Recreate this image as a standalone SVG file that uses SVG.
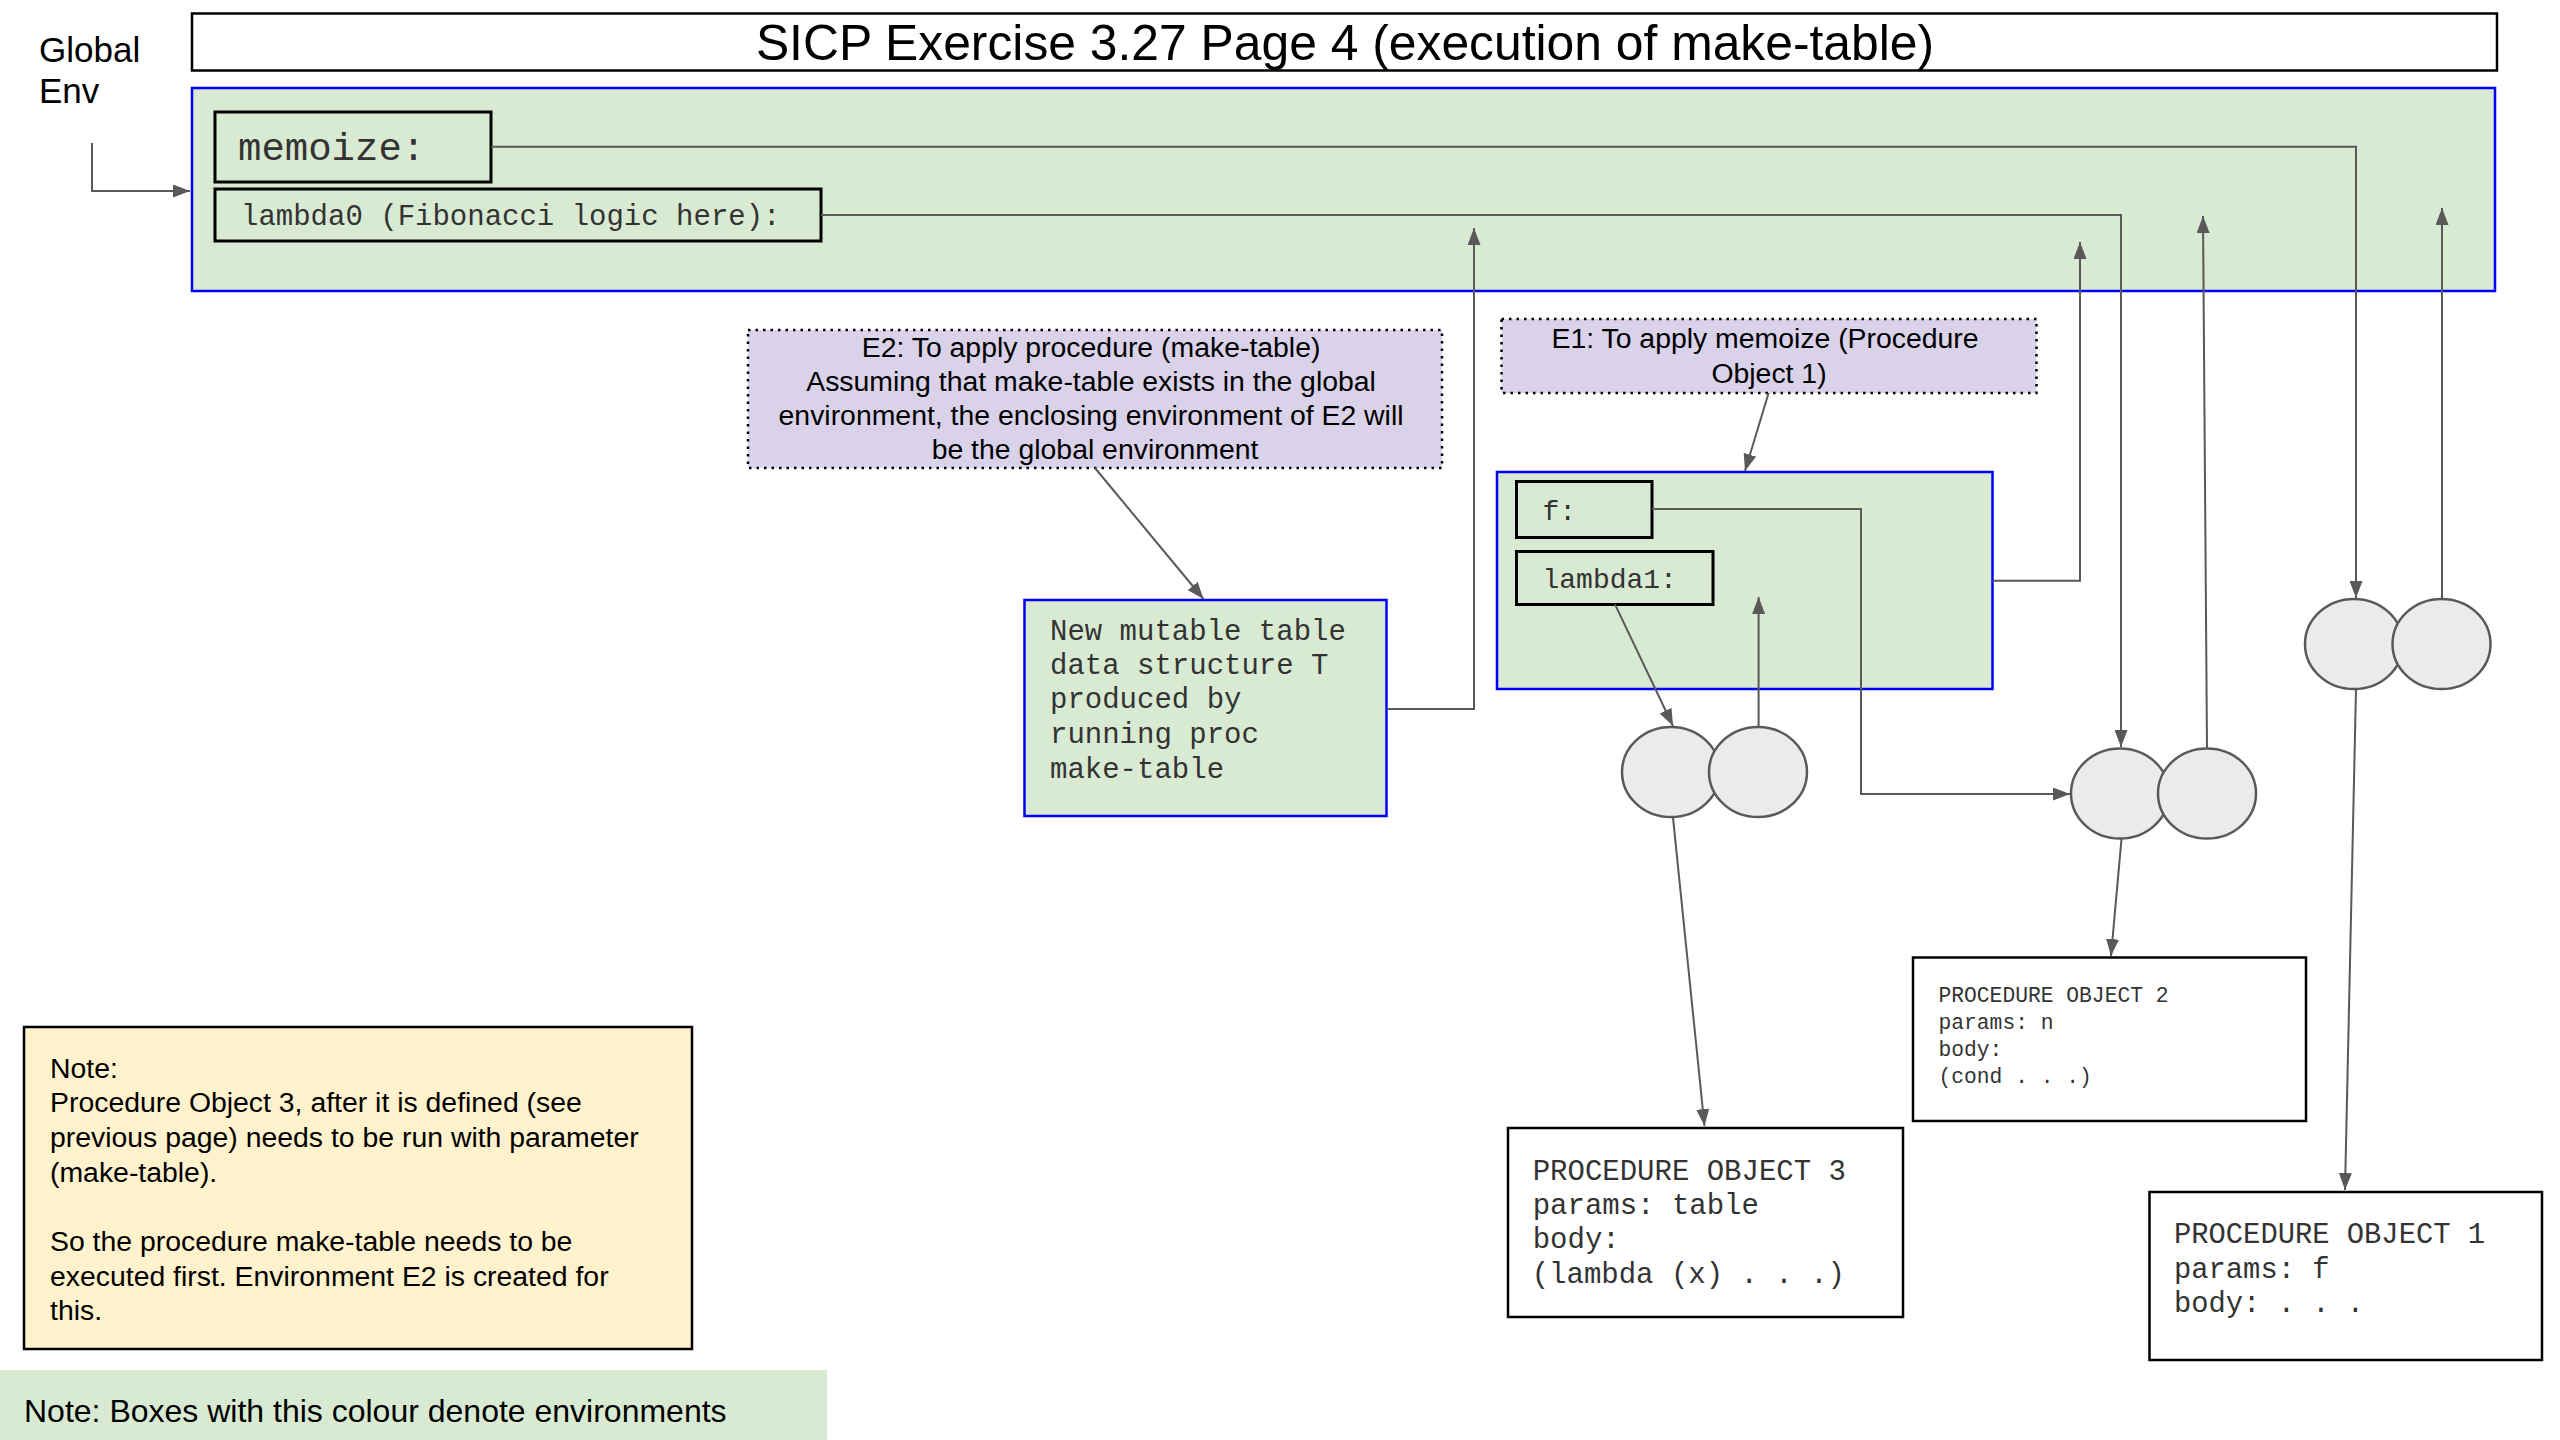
<svg xmlns="http://www.w3.org/2000/svg" width="2560" height="1440" viewBox="0 0 2560 1440">
<style>
.sans{font-family:"Liberation Sans",Arial,sans-serif;fill:#000}
.mono{font-family:"Liberation Mono","Courier New",monospace;fill:#333}
.env{fill:#d9ead3;stroke:#0000ff;stroke-width:2.5}
.lab{fill:#d9d2e9;stroke:#000;stroke-width:2.5;stroke-dasharray:2.5 5}
.bind{fill:#d9ead3;stroke:#000;stroke-width:3}
.po{fill:#fff;stroke:#000;stroke-width:2.5}
.cell{fill:#ebebeb;stroke:#595959;stroke-width:2.5}
.conn{fill:none;stroke:#595959;stroke-width:2}
</style>
<defs>
<marker id="arr" viewBox="0 0 17 13" refX="17" refY="6.5" markerWidth="17" markerHeight="13" orient="auto" markerUnits="userSpaceOnUse">
<path d="M0,0 L17,6.5 L0,13 z" fill="#595959"/>
</marker>
</defs>
<rect width="2560" height="1440" fill="#fff"/>

<g id="global-env-label">
<text class="sans" x="39" y="62" font-size="35">Global</text>
<text class="sans" x="39" y="103" font-size="35">Env</text>
</g>

<g id="title">
<rect x="192" y="13.5" width="2305" height="57" fill="#fff" stroke="#000" stroke-width="2.5"/>
<text class="sans" x="1345" y="60" font-size="49.8" text-anchor="middle">SICP Exercise 3.27 Page 4 (execution of make-table)</text>
</g>

<g id="global-env">
<rect class="env" x="192" y="88" width="2303" height="203"/>
</g>
<g id="memoize-binding">
<rect class="bind" x="215" y="112" width="276" height="70"/>
<text class="mono" x="238" y="160" font-size="39">memoize:</text>
</g>
<g id="lambda0-binding">
<rect class="bind" x="215" y="189" width="606" height="52"/>
<text class="mono" x="241" y="225" font-size="29">lambda0 (Fibonacci logic here):</text>
</g>

<g id="e2-label">
<rect class="lab" x="748" y="330" width="694" height="138"/>
<text class="sans" font-size="28.4" text-anchor="middle">
<tspan x="1095" y="357">E2: To apply procedure (make-table)</tspan>
<tspan x="1095" y="391">Assuming that make-table exists in the global</tspan>
<tspan x="1095" y="425">environment, the enclosing environment of E2 will</tspan>
<tspan x="1095" y="459">be the global environment</tspan>
</text>
</g>

<g id="e2-env">
<rect class="env" x="1024.5" y="600" width="362" height="216"/>
<text class="mono" font-size="29">
<tspan x="1050" y="640">New mutable table</tspan>
<tspan x="1050" y="674">data structure T</tspan>
<tspan x="1050" y="708">produced by</tspan>
<tspan x="1050" y="743">running proc</tspan>
<tspan x="1050" y="778">make-table</tspan>
</text>
</g>

<g id="e1-label">
<rect class="lab" x="1501.5" y="319" width="535" height="74"/>
<text class="sans" font-size="28.4" text-anchor="middle">
<tspan x="1769" y="348">E1: To apply memoize (Procedure</tspan>
<tspan x="1769" y="383">Object 1)</tspan>
</text>
</g>

<g id="e1-env">
<rect class="env" x="1497" y="472" width="495.5" height="217"/>
</g>
<g id="f-binding">
<rect class="bind" x="1516.5" y="481.5" width="135.5" height="56"/>
<text class="mono" x="1542.5" y="520" font-size="28">f:</text>
</g>
<g id="lambda1-binding">
<rect class="bind" x="1516.5" y="551.5" width="196.5" height="53"/>
<text class="mono" x="1542.5" y="587.5" font-size="28">lambda1:</text>
</g>

<g id="connectors">
<path class="conn" d="M92,143 V191 H190" marker-end="url(#arr)"/>
<path class="conn" d="M491,146.7 H2356 V598" marker-end="url(#arr)"/>
<path class="conn" d="M821,215 H2121 V747" marker-end="url(#arr)"/>
<path class="conn" d="M1387,709 H1474 V228" marker-end="url(#arr)"/>
<path class="conn" d="M1992.5,580.7 H2080 V242" marker-end="url(#arr)"/>
<path class="conn" d="M1652,509 H1861 V794 H2070" marker-end="url(#arr)"/>
<path class="conn" d="M2207,748 L2203,216" marker-end="url(#arr)"/>
<path class="conn" d="M2442,599 V208" marker-end="url(#arr)"/>
<path class="conn" d="M1615,604.4 L1673,726" marker-end="url(#arr)"/>
<path class="conn" d="M1758.6,727 V597" marker-end="url(#arr)"/>
<path class="conn" d="M1768.6,393 L1745,471" marker-end="url(#arr)"/>
<path class="conn" d="M1095,468 L1203.5,599" marker-end="url(#arr)"/>
<path class="conn" d="M1673,817.6 L1704.5,1126" marker-end="url(#arr)"/>
<path class="conn" d="M2121.5,838.8 L2111,956" marker-end="url(#arr)"/>
<path class="conn" d="M2356,689 L2345,1190" marker-end="url(#arr)"/>
</g>

<g id="pair-lambda1">
<ellipse class="cell" cx="1671" cy="772" rx="49" ry="45"/>
<ellipse class="cell" cx="1758" cy="772" rx="49" ry="45"/>
</g>
<g id="pair-lambda0">
<ellipse class="cell" cx="2120" cy="793.5" rx="49" ry="45"/>
<ellipse class="cell" cx="2207" cy="793.5" rx="49" ry="45"/>
</g>
<g id="pair-memoize">
<ellipse class="cell" cx="2354" cy="644" rx="49" ry="45"/>
<ellipse class="cell" cx="2441.5" cy="644" rx="49" ry="45"/>
</g>

<g id="procedure-object-3">
<rect class="po" x="1508" y="1128" width="395" height="189"/>
<text class="mono" font-size="29">
<tspan x="1532.7" y="1180">PROCEDURE OBJECT 3</tspan>
<tspan x="1532.7" y="1214">params: table</tspan>
<tspan x="1532.7" y="1248">body:</tspan>
<tspan x="1531.7" y="1283">(lambda (x) . . .)</tspan>
</text>
</g>

<g id="procedure-object-2">
<rect class="po" x="1913" y="957.5" width="393" height="163.5"/>
<text class="mono" font-size="21.3">
<tspan x="1938.5" y="1002">PROCEDURE OBJECT 2</tspan>
<tspan x="1938.5" y="1029">params: n</tspan>
<tspan x="1938.5" y="1056">body:</tspan>
<tspan x="1938.5" y="1083">(cond . . .)</tspan>
</text>
</g>

<g id="procedure-object-1">
<rect class="po" x="2149.5" y="1192" width="392.5" height="168"/>
<text class="mono" font-size="28.8">
<tspan x="2174" y="1242.5">PROCEDURE OBJECT 1</tspan>
<tspan x="2174" y="1277.5">params: f</tspan>
<tspan x="2174" y="1311.5">body: . . .</tspan>
</text>
</g>

<g id="note">
<rect x="24" y="1027" width="668" height="322" fill="#fff2cc" stroke="#000" stroke-width="2.5"/>
<text class="sans" font-size="28.4">
<tspan x="50" y="1078">Note:</tspan>
<tspan x="50" y="1112">Procedure Object 3, after it is defined (see</tspan>
<tspan x="50" y="1147">previous page) needs to be run with parameter</tspan>
<tspan x="50" y="1182">(make-table).</tspan>
<tspan x="50" y="1251">So the procedure make-table needs to be</tspan>
<tspan x="50" y="1286">executed first. Environment E2 is created for</tspan>
<tspan x="50" y="1320">this.</tspan>
</text>
</g>

<g id="legend">
<rect x="0" y="1370" width="827" height="70" fill="#d9ead3"/>
<text class="sans" x="24" y="1422" font-size="32">Note: Boxes with this colour denote environments</text>
</g>
</svg>
